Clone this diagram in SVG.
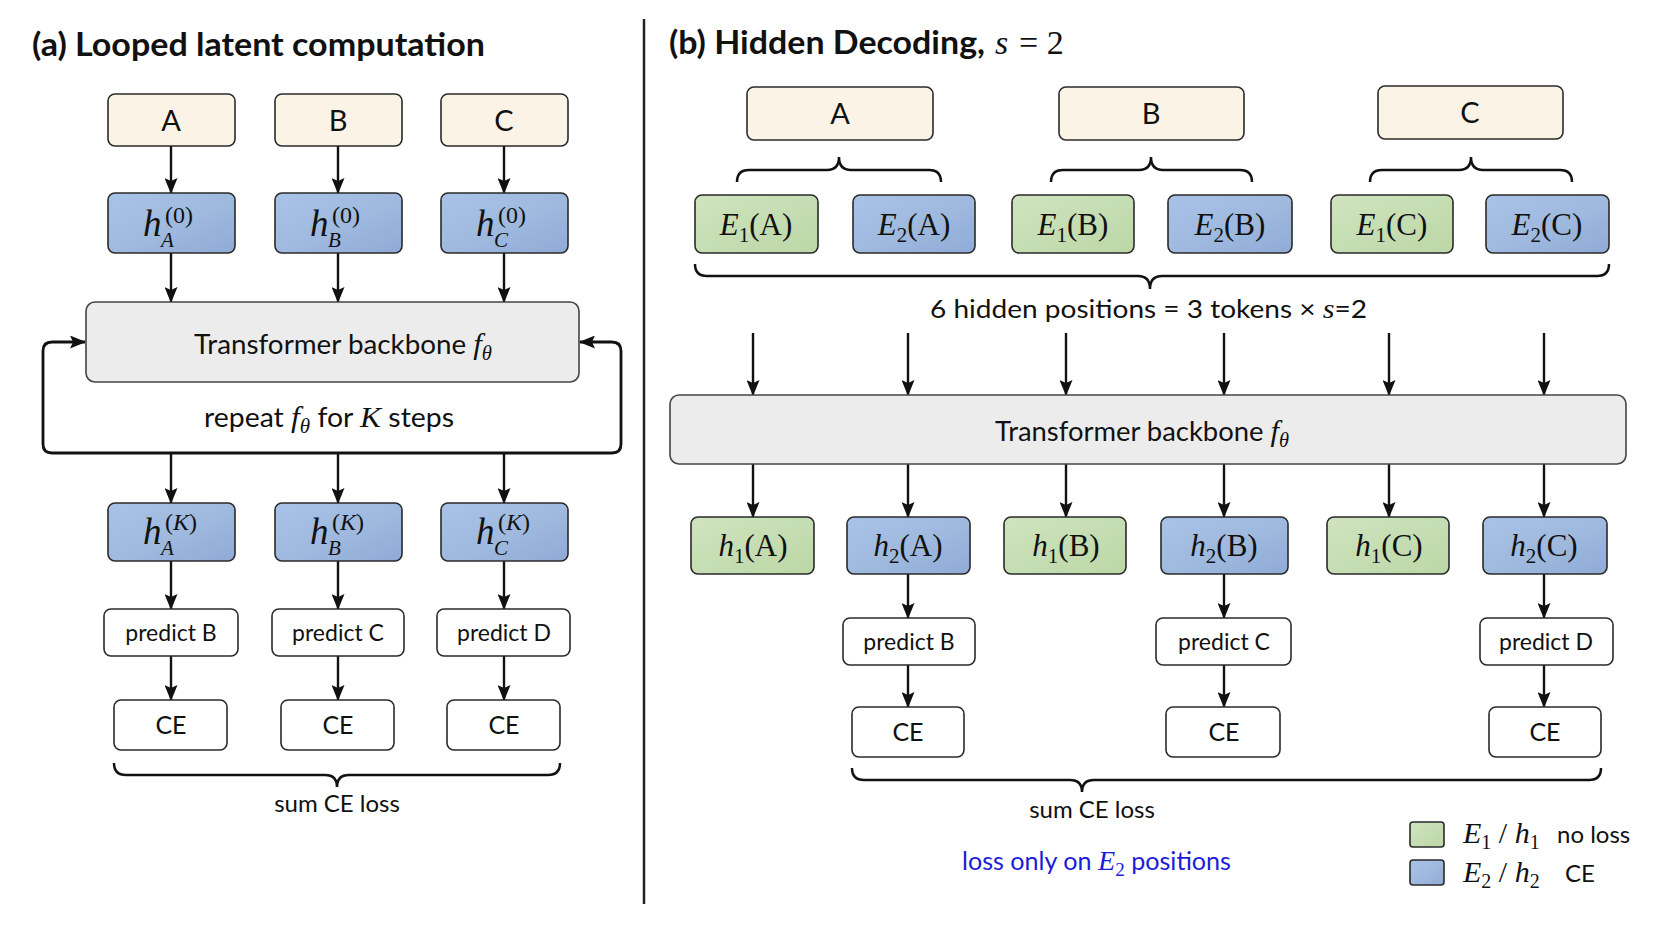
<svg xmlns="http://www.w3.org/2000/svg" width="1672" height="941" viewBox="0 0 1672 941">
<defs>
<linearGradient id="gBlue" x1="0" y1="0" x2="1" y2="1">
<stop offset="0" stop-color="#a9c2e8"/><stop offset="0.5" stop-color="#a0badf"/><stop offset="1" stop-color="#8fabd6"/>
</linearGradient>
<linearGradient id="gGreen" x1="0" y1="0" x2="1" y2="1">
<stop offset="0" stop-color="#cfe4bf"/><stop offset="1" stop-color="#bcd7a6"/>
</linearGradient>
<marker id="ah" viewBox="0 0 16 13" refX="15" refY="6.5" markerUnits="userSpaceOnUse" markerWidth="16" markerHeight="13" orient="auto-start-reverse">
<path d="M0,0 L16,6.5 L0,13 L3,6.5 z" fill="#111"/>
</marker>
<style>
.cream{fill:#fbf4e6;stroke:#2a2a2a;stroke-width:1.6}
.blue{fill:url(#gBlue);stroke:#2a2a2a;stroke-width:1.6}
.green{fill:url(#gGreen);stroke:#2a2a2a;stroke-width:1.6}
.white{fill:#ffffff;stroke:#2a2a2a;stroke-width:1.6}
.grey{fill:#ececec;stroke:#444;stroke-width:1.6}
.t{font-family:Lato,'Liberation Sans',sans-serif;fill:#111}
.b{font-weight:bold}
.m{font-family:'Liberation Serif','DejaVu Serif',serif;font-style:italic;fill:#111}
.u{font-style:normal}
.arr{stroke:#111;stroke-width:2.4;fill:none;marker-end:url(#ah)}
.brace{stroke:#111;stroke-width:2.5;fill:none}
.blu{fill:#1c1cd8}
</style>
</defs>
<rect width="1672" height="941" fill="#ffffff"/>

<!-- titles -->
<text class="t b" x="32" y="56" font-size="32" textLength="453" lengthAdjust="spacingAndGlyphs">(a) Looped latent computation</text>
<g id="title-b">
<text class="t b" x="669" y="54" font-size="32" textLength="316" lengthAdjust="spacingAndGlyphs">(b) Hidden Decoding,</text>
<text class="m" x="995" y="54" font-size="34">s</text>
<text class="m u" x="1019" y="54" font-size="34">= 2</text>
</g>
<line x1="644" y1="19" x2="644" y2="904" stroke="#222" stroke-width="2.5"/>

<!-- connectors -->
<g id="connectors">
<line class="arr" x1="171" y1="146" x2="171" y2="193"/>
<line class="arr" x1="338" y1="146" x2="338" y2="193"/>
<line class="arr" x1="504" y1="146" x2="504" y2="193"/>
<line class="arr" x1="171" y1="253" x2="171" y2="302"/>
<line class="arr" x1="338" y1="253" x2="338" y2="302"/>
<line class="arr" x1="504" y1="253" x2="504" y2="302"/>
<path d="M85,342 H52 Q43,342 43,351 V444 Q43,453 52,453 H612 Q621,453 621,444 V351 Q621,342 612,342 H580" stroke="#111" stroke-width="2.8" fill="none" marker-start="url(#ah)" marker-end="url(#ah)"/>
<line class="arr" x1="171" y1="453" x2="171" y2="503"/>
<line class="arr" x1="338" y1="453" x2="338" y2="503"/>
<line class="arr" x1="504" y1="453" x2="504" y2="503"/>
<line class="arr" x1="171" y1="561" x2="171" y2="609"/>
<line class="arr" x1="338" y1="561" x2="338" y2="609"/>
<line class="arr" x1="504" y1="561" x2="504" y2="609"/>
<line class="arr" x1="171" y1="656" x2="171" y2="700"/>
<line class="arr" x1="338" y1="656" x2="338" y2="700"/>
<line class="arr" x1="504" y1="656" x2="504" y2="700"/>
<path class="brace" d="M114,763 Q114,775 126,775 H325 Q337,775 337,787 Q337,775 349,775 H548 Q560,775 560,763"/>

<path class="brace" d="M737,182 Q737,170 749,170 H827 Q839,170 839,157 Q839,170 851,170 H929 Q941,170 941,182"/>
<path class="brace" d="M1051,182 Q1051,170 1063,170 H1139 Q1151,170 1151,157 Q1151,170 1163,170 H1240 Q1252,170 1252,182"/>
<path class="brace" d="M1370,182 Q1370,170 1382,170 H1459 Q1471,170 1471,157 Q1471,170 1483,170 H1560 Q1572,170 1572,182"/>
<path class="brace" d="M695,264 Q695,276 707,276 H1138 Q1150,276 1150,289 Q1150,276 1162,276 H1597 Q1609,276 1609,264"/>

<line class="arr" x1="753" y1="333" x2="753" y2="395"/>
<line class="arr" x1="908" y1="333" x2="908" y2="395"/>
<line class="arr" x1="1066" y1="333" x2="1066" y2="395"/>
<line class="arr" x1="1224" y1="333" x2="1224" y2="395"/>
<line class="arr" x1="1389" y1="333" x2="1389" y2="395"/>
<line class="arr" x1="1544" y1="333" x2="1544" y2="395"/>
<line class="arr" x1="753" y1="464" x2="753" y2="517"/>
<line class="arr" x1="908" y1="464" x2="908" y2="517"/>
<line class="arr" x1="1066" y1="464" x2="1066" y2="517"/>
<line class="arr" x1="1224" y1="464" x2="1224" y2="517"/>
<line class="arr" x1="1389" y1="464" x2="1389" y2="517"/>
<line class="arr" x1="1544" y1="464" x2="1544" y2="517"/>
<line class="arr" x1="908" y1="574" x2="908" y2="618"/>
<line class="arr" x1="1224" y1="574" x2="1224" y2="618"/>
<line class="arr" x1="1544" y1="574" x2="1544" y2="618"/>
<line class="arr" x1="908" y1="665" x2="908" y2="707"/>
<line class="arr" x1="1224" y1="665" x2="1224" y2="707"/>
<line class="arr" x1="1544" y1="665" x2="1544" y2="707"/>
<path class="brace" d="M852,768 Q852,780 864,780 H1070 Q1082,780 1082,792 Q1082,780 1094,780 H1589 Q1601,780 1601,768"/>
</g>

<!-- left panel nodes -->
<g id="a-tokA"><rect class="cream" x="108" y="94" width="127" height="52" rx="7"/><text class="t" x="171" y="131" font-size="29" text-anchor="middle">A</text></g>
<g id="a-tokB"><rect class="cream" x="275" y="94" width="127" height="52" rx="7"/><text class="t" x="338" y="131" font-size="29" text-anchor="middle">B</text></g>
<g id="a-tokC"><rect class="cream" x="441" y="94" width="127" height="52" rx="7"/><text class="t" x="504" y="131" font-size="29" text-anchor="middle">C</text></g>

<g id="a-h0A"><rect class="blue" x="108" y="193" width="127" height="60" rx="7"/>
<text class="m" x="143" y="236" font-size="37">h</text><text class="m u" x="165" y="223" font-size="24">(0)</text><text class="m" x="161" y="247" font-size="21">A</text></g>
<g id="a-h0B"><rect class="blue" x="275" y="193" width="127" height="60" rx="7"/>
<text class="m" x="310" y="236" font-size="37">h</text><text class="m u" x="332" y="223" font-size="24">(0)</text><text class="m" x="328" y="247" font-size="21">B</text></g>
<g id="a-h0C"><rect class="blue" x="441" y="193" width="127" height="60" rx="7"/>
<text class="m" x="476" y="236" font-size="37">h</text><text class="m u" x="498" y="223" font-size="24">(0)</text><text class="m" x="494" y="247" font-size="21">C</text></g>

<g id="a-transformer"><rect class="grey" x="86" y="302" width="493" height="80" rx="9"/>
<text class="t" x="194" y="354" font-size="27" textLength="298" lengthAdjust="spacingAndGlyphs">Transformer backbone <tspan class="m" font-size="30">f</tspan><tspan class="m" font-size="20" dy="6">θ</tspan></text></g>
<text class="t" x="204" y="427" font-size="27" textLength="250" lengthAdjust="spacingAndGlyphs">repeat <tspan class="m" font-size="30">f</tspan><tspan class="m" font-size="20" dy="6">θ</tspan><tspan dy="-6"> for </tspan><tspan class="m" font-size="30">K</tspan> steps</text>

<g id="a-hKA"><rect class="blue" x="108" y="503" width="127" height="58" rx="7"/>
<text class="m" x="143" y="544" font-size="37">h</text><text class="m u" x="165" y="530" font-size="24">(<tspan class="m">K</tspan>)</text><text class="m" x="161" y="555" font-size="21">A</text></g>
<g id="a-hKB"><rect class="blue" x="275" y="503" width="127" height="58" rx="7"/>
<text class="m" x="310" y="544" font-size="37">h</text><text class="m u" x="332" y="530" font-size="24">(<tspan class="m">K</tspan>)</text><text class="m" x="328" y="555" font-size="21">B</text></g>
<g id="a-hKC"><rect class="blue" x="441" y="503" width="127" height="58" rx="7"/>
<text class="m" x="476" y="544" font-size="37">h</text><text class="m u" x="498" y="530" font-size="24">(<tspan class="m">K</tspan>)</text><text class="m" x="494" y="555" font-size="21">C</text></g>

<g id="a-predB"><rect class="white" x="104" y="609" width="134" height="47" rx="7"/><text class="t" x="171" y="641" font-size="23" text-anchor="middle">predict B</text></g>
<g id="a-predC"><rect class="white" x="272" y="609" width="132" height="47" rx="7"/><text class="t" x="338" y="641" font-size="23" text-anchor="middle">predict C</text></g>
<g id="a-predD"><rect class="white" x="437" y="609" width="133" height="47" rx="7"/><text class="t" x="504" y="641" font-size="23" text-anchor="middle">predict D</text></g>

<g id="a-CE1"><rect class="white" x="114" y="700" width="113" height="50" rx="7"/><text class="t" x="171" y="734" font-size="25" text-anchor="middle">CE</text></g>
<g id="a-CE2"><rect class="white" x="281" y="700" width="113" height="50" rx="7"/><text class="t" x="338" y="734" font-size="25" text-anchor="middle">CE</text></g>
<g id="a-CE3"><rect class="white" x="447" y="700" width="113" height="50" rx="7"/><text class="t" x="504" y="734" font-size="25" text-anchor="middle">CE</text></g>
<text class="t" x="337" y="812" font-size="24" text-anchor="middle">sum CE loss</text>

<!-- right panel nodes -->
<g id="b-tokA"><rect class="cream" x="747" y="87" width="186" height="53" rx="7"/><text class="t" x="840" y="124" font-size="29" text-anchor="middle">A</text></g>
<g id="b-tokB"><rect class="cream" x="1059" y="87" width="185" height="53" rx="7"/><text class="t" x="1151" y="124" font-size="29" text-anchor="middle">B</text></g>
<g id="b-tokC"><rect class="cream" x="1378" y="86" width="185" height="53" rx="7"/><text class="t" x="1470" y="123" font-size="29" text-anchor="middle">C</text></g>

<g id="b-E1A"><rect class="green" x="695" y="195" width="123" height="58" rx="7"/><text class="m" x="756" y="235" font-size="31" text-anchor="middle">E<tspan class="u" font-size="21" dy="7">1</tspan><tspan class="u" dy="-7">(A)</tspan></text></g>
<g id="b-E2A"><rect class="blue" x="853" y="195" width="122" height="58" rx="7"/><text class="m" x="914" y="235" font-size="31" text-anchor="middle">E<tspan class="u" font-size="21" dy="7">2</tspan><tspan class="u" dy="-7">(A)</tspan></text></g>
<g id="b-E1B"><rect class="green" x="1012" y="195" width="122" height="58" rx="7"/><text class="m" x="1073" y="235" font-size="31" text-anchor="middle">E<tspan class="u" font-size="21" dy="7">1</tspan><tspan class="u" dy="-7">(B)</tspan></text></g>
<g id="b-E2B"><rect class="blue" x="1168" y="195" width="124" height="58" rx="7"/><text class="m" x="1230" y="235" font-size="31" text-anchor="middle">E<tspan class="u" font-size="21" dy="7">2</tspan><tspan class="u" dy="-7">(B)</tspan></text></g>
<g id="b-E1C"><rect class="green" x="1331" y="195" width="122" height="58" rx="7"/><text class="m" x="1392" y="235" font-size="31" text-anchor="middle">E<tspan class="u" font-size="21" dy="7">1</tspan><tspan class="u" dy="-7">(C)</tspan></text></g>
<g id="b-E2C"><rect class="blue" x="1486" y="195" width="123" height="58" rx="7"/><text class="m" x="1547" y="235" font-size="31" text-anchor="middle">E<tspan class="u" font-size="21" dy="7">2</tspan><tspan class="u" dy="-7">(C)</tspan></text></g>

<text class="t" x="930" y="318" font-size="25" textLength="437" lengthAdjust="spacingAndGlyphs">6 hidden positions = 3 tokens × <tspan class="m" font-size="27">s</tspan>=2</text>

<g id="b-transformer"><rect class="grey" x="670" y="395" width="956" height="69" rx="9"/>
<text class="t" x="995" y="441" font-size="27" textLength="294" lengthAdjust="spacingAndGlyphs">Transformer backbone <tspan class="m" font-size="30">f</tspan><tspan class="m" font-size="20" dy="6">θ</tspan></text></g>

<g id="b-h1A"><rect class="green" x="691" y="517" width="123" height="57" rx="7"/><text class="m" x="753" y="556" font-size="31" text-anchor="middle">h<tspan class="u" font-size="21" dy="7">1</tspan><tspan class="u" dy="-7">(A)</tspan></text></g>
<g id="b-h2A"><rect class="blue" x="847" y="517" width="123" height="57" rx="7"/><text class="m" x="908" y="556" font-size="31" text-anchor="middle">h<tspan class="u" font-size="21" dy="7">2</tspan><tspan class="u" dy="-7">(A)</tspan></text></g>
<g id="b-h1B"><rect class="green" x="1004" y="517" width="122" height="57" rx="7"/><text class="m" x="1066" y="556" font-size="31" text-anchor="middle">h<tspan class="u" font-size="21" dy="7">1</tspan><tspan class="u" dy="-7">(B)</tspan></text></g>
<g id="b-h2B"><rect class="blue" x="1161" y="517" width="127" height="57" rx="7"/><text class="m" x="1224" y="556" font-size="31" text-anchor="middle">h<tspan class="u" font-size="21" dy="7">2</tspan><tspan class="u" dy="-7">(B)</tspan></text></g>
<g id="b-h1C"><rect class="green" x="1327" y="517" width="122" height="57" rx="7"/><text class="m" x="1389" y="556" font-size="31" text-anchor="middle">h<tspan class="u" font-size="21" dy="7">1</tspan><tspan class="u" dy="-7">(C)</tspan></text></g>
<g id="b-h2C"><rect class="blue" x="1483" y="517" width="124" height="57" rx="7"/><text class="m" x="1544" y="556" font-size="31" text-anchor="middle">h<tspan class="u" font-size="21" dy="7">2</tspan><tspan class="u" dy="-7">(C)</tspan></text></g>

<g id="b-predB"><rect class="white" x="843" y="618" width="132" height="47" rx="7"/><text class="t" x="909" y="650" font-size="23" text-anchor="middle">predict B</text></g>
<g id="b-predC"><rect class="white" x="1156" y="618" width="135" height="47" rx="7"/><text class="t" x="1224" y="650" font-size="23" text-anchor="middle">predict C</text></g>
<g id="b-predD"><rect class="white" x="1480" y="618" width="133" height="47" rx="7"/><text class="t" x="1546" y="650" font-size="23" text-anchor="middle">predict D</text></g>

<g id="b-CE1"><rect class="white" x="852" y="707" width="112" height="50" rx="7"/><text class="t" x="908" y="741" font-size="25" text-anchor="middle">CE</text></g>
<g id="b-CE2"><rect class="white" x="1166" y="707" width="114" height="50" rx="7"/><text class="t" x="1224" y="741" font-size="25" text-anchor="middle">CE</text></g>
<g id="b-CE3"><rect class="white" x="1489" y="707" width="112" height="50" rx="7"/><text class="t" x="1545" y="741" font-size="25" text-anchor="middle">CE</text></g>
<text class="t" x="1092" y="818" font-size="24" text-anchor="middle">sum CE loss</text>
<text class="t blu" x="962" y="870" font-size="25" textLength="269" lengthAdjust="spacingAndGlyphs">loss only on <tspan class="m blu" font-size="28">E</tspan><tspan class="m u blu" font-size="19" dy="6">2</tspan><tspan dy="-6"> positions</tspan></text>

<!-- legend -->
<g id="legend">
<rect class="green" x="1410" y="822" width="34" height="25" rx="3"/>
<rect class="blue" x="1410" y="860" width="34" height="25" rx="3"/>
<text class="m" x="1463" y="843" font-size="30">E<tspan class="u" font-size="20" dy="6">1</tspan><tspan class="u" dy="-6"> / </tspan>h<tspan class="u" font-size="20" dy="6">1</tspan></text>
<text class="t" x="1557" y="843" font-size="24">no loss</text>
<text class="m" x="1463" y="882" font-size="30">E<tspan class="u" font-size="20" dy="6">2</tspan><tspan class="u" dy="-6"> / </tspan>h<tspan class="u" font-size="20" dy="6">2</tspan></text>
<text class="t" x="1565" y="882" font-size="24">CE</text>
</g>
</svg>
